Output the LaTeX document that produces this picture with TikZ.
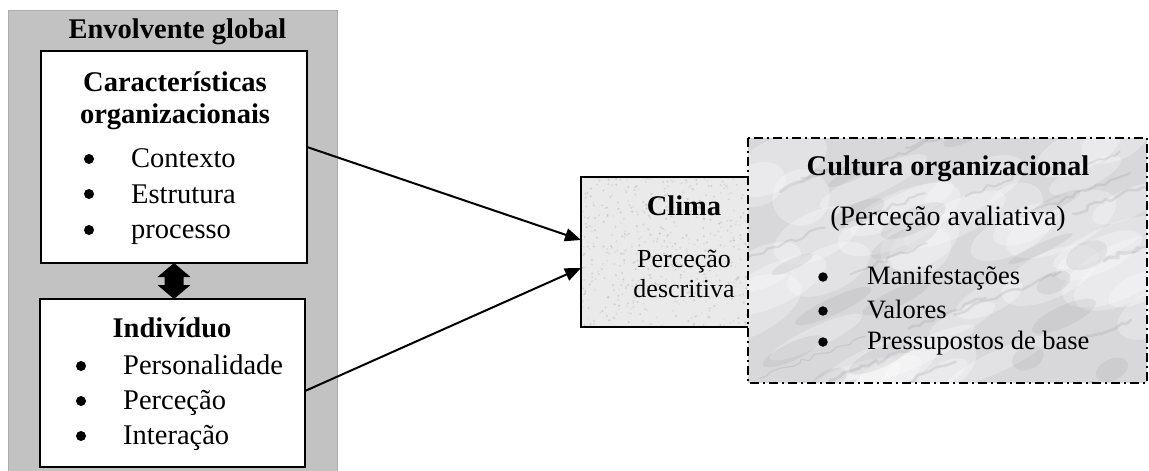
\documentclass[tikz,border=0pt]{standalone}
\usepackage{fontspec}
\setmainfont{Liberation Serif}
\usetikzlibrary{calc,arrows.meta,decorations.pathmorphing}

\definecolor{panelgray}{RGB}{194,194,194}
\definecolor{panelrule}{RGB}{172,172,172}
\definecolor{climafill}{RGB}{234,234,234}
\definecolor{marblebase}{RGB}{216,216,219}
\definecolor{marblevein}{RGB}{110,110,116}

\tikzset{
  frame/.style={draw=black, line width=2pt, inner sep=0pt, outer sep=0pt},
  ttl/.style={inner sep=0pt, anchor=base, font=\fontsize{28.5}{34}\selectfont\bfseries},
  txt/.style={inner sep=0pt, anchor=base, font=\fontsize{28}{34}\selectfont},
  small/.style={inner sep=0pt, anchor=base, font=\fontsize{26}{30}\selectfont},
  item/.style={inner sep=0pt, anchor=base west, font=\fontsize{28.5}{34}\selectfont},
  itemsm/.style={inner sep=0pt, anchor=base west, font=\fontsize{26.5}{30}\selectfont},
  dot/.style={circle, fill=black, inner sep=0pt, minimum size=10pt},
  link/.style={line width=2pt, -{Triangle[length=16pt,width=13pt]}},
  dashdot/.style={line width=2pt, dash pattern=on 9pt off 4pt on 2pt off 4pt}
}

\begin{document}
\begin{tikzpicture}[x=1pt,y=-1pt]
\useasboundingbox (0,0) rectangle (1149,471);

% grey surrounding panel
\fill[panelgray] (8,10) rectangle (337,475);
\draw[panelrule, line width=1pt] (8,475) -- (8,10) -- (337,10) -- (337,475);

% boxes of the left panel
\node[frame, fill=white, minimum width=266pt, minimum height=212pt] (org) at (174,157) {};
\node[frame, fill=white, minimum width=265pt, minimum height=168pt] (ind) at (172.5,383) {};

% two-headed block arrow between them
\fill let \p1=(org.south), \p2=(ind.north) in
  (\x1,\y1) -- (\x1+16.5pt,\y1-14pt) -- (\x1+9.5pt,\y1-14pt) -- (\x1+9.5pt,\y2+14pt)
  -- (\x1+16.5pt,\y2+14pt) -- (\x1,\y2) -- (\x1-16.5pt,\y2+14pt) -- (\x1-9.5pt,\y2+14pt)
  -- (\x1-9.5pt,\y1-14pt) -- (\x1-16.5pt,\y1-14pt) -- cycle;

% climate box with a speckled fill
\node[frame, fill=climafill, minimum width=168pt, minimum height=150pt] (clima) at (665,252) {};
\begin{scope}
  \clip (clima.north west) rectangle (clima.south east);
  \pgfmathsetseed{11}
  \foreach \k in {1,...,500}{
    \pgfmathsetmacro{\px}{582+rnd*166}
    \pgfmathsetmacro{\py}{178+rnd*148}
    \pgfmathsetmacro{\op}{0.08+0.22*rnd}
    \fill[gray, opacity=\op] (\px,\py) circle (1.1pt);
  }
\end{scope}
\draw[line width=2pt] (clima.north east) -- (clima.north west) -- (clima.south west) -- (clima.south east);

% culture box with a marble fill
\path node[inner sep=0pt, outer sep=0pt, minimum width=399pt, minimum height=245pt] (cult) at (947.5,260.5) {};
\begin{scope}
  \clip (cult.north west) rectangle (cult.south east);
  \fill[marblebase] (cult.north west) rectangle (cult.south east);
  \pgfmathsetseed{5}
  % soft light clouds
  \foreach \k in {1,...,40}{
    \pgfmathsetmacro{\sx}{740+rnd*420}
    \pgfmathsetmacro{\sy}{130+rnd*265}
    \pgfmathsetmacro{\rx}{25+rnd*45}
    \pgfmathsetmacro{\ry}{10+rnd*18}
    \fill[white, opacity=0.28, rotate around={25:(\sx,\sy)}] (\sx,\sy) ellipse ({\rx pt} and {\ry pt});
  }
  % soft darker clouds
  \foreach \k in {1,...,18}{
    \pgfmathsetmacro{\sx}{740+rnd*420}
    \pgfmathsetmacro{\sy}{130+rnd*265}
    \pgfmathsetmacro{\rx}{15+rnd*30}
    \pgfmathsetmacro{\ry}{5+rnd*8}
    \fill[marblevein, opacity=0.10, rotate around={25:(\sx,\sy)}] (\sx,\sy) ellipse ({\rx pt} and {\ry pt});
  }
  % thin veins
  \foreach \k in {1,...,22}{
    \pgfmathsetmacro{\sx}{720+rnd*420}
    \pgfmathsetmacro{\sy}{140+rnd*270}
    \pgfmathsetmacro{\len}{30+rnd*80}
    \pgfmathsetmacro{\lw}{1+rnd*2.5}
    \draw[marblevein, opacity=0.14, line width=\lw pt, line cap=round,
          decorate, decoration={random steps, segment length=6pt, amplitude=2.5pt}]
      (\sx,\sy) -- ++(\len,-0.4*\len);
  }
\end{scope}
\draw[dashdot] (cult.north west) rectangle (cult.south east);

% connectors into the climate box
\draw[link] ($(org.east)+(0,-10)$) -- ($(clima.west)+(0,-12)$);
\draw[link] ($(ind.east)+(0,8)$) -- ($(clima.west)+(0,16)$);

% texts of the left panel
\node[ttl] (tglobal) at (177.5,38) {Envolvente global};
\node[ttl] (torg1) at (175,91) {Características};
\node[ttl] (torg2) at (175,123) {organizacionais};
\node[dot] (b1) at (89,159) {};
\node[item] (i1) at (131,167) {Contexto};
\node[dot] (b2) at (89,194) {};
\node[item] (i2) at (131,203) {Estrutura};
\node[dot] (b3) at (89,230) {};
\node[item] (i3) at (131,238) {processo};

\node[ttl] (tind) at (172,337) {Indivíduo};
\node[dot] (b4) at (81,366) {};
\node[item] (i4) at (123,374) {Personalidade};
\node[dot] (b5) at (81,401) {};
\node[item] (i5) at (123,409) {Perceção};
\node[dot] (b6) at (81,436) {};
\node[item] (i6) at (123,444) {Interação};

% texts of the climate box
\node[ttl] (tclima) at (684,215) {Clima};
\node[small] (c1) at (684,267) {Perceção};
\node[small] (c2) at (684,297) {descritiva};

% texts of the culture box
\node[ttl] (tcult) at (948,175) {Cultura organizacional};
\node[txt] (tcsub) at (948,225) {(Perceção avaliativa)};
\node[dot, minimum size=9.5pt] (b7) at (823,277) {};
\node[itemsm] (k1) at (867,284) {Manifestações};
\node[dot, minimum size=9.5pt] (b8) at (823,311) {};
\node[itemsm] (k2) at (867,318) {Valores};
\node[dot, minimum size=9.5pt] (b9) at (823,342) {};
\node[itemsm] (k3) at (867,349) {Pressupostos de base};
\end{tikzpicture}
\end{document}
